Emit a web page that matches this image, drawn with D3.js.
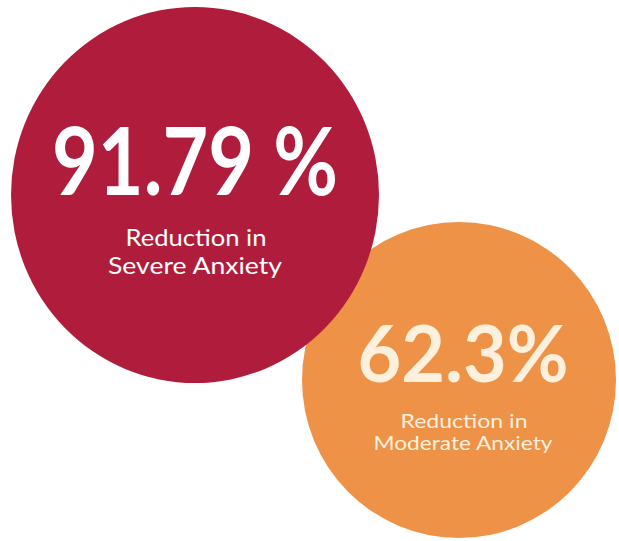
<!DOCTYPE html>
<html>
<head>
<meta charset="utf-8">
<script src="https://cdn.jsdelivr.net/npm/d3@7"></script>
<style>
  html, body { margin: 0; padding: 0; background: #fff; }
  svg { display: block; }
</style>
</head>
<body>
<div id="chart"></div>
<script>
const categories = ["Severe Anxiety", "Moderate Anxiety"];
const values = [91.79, 62.3];
const valueLabels = ["91.79 %", "62.3%"];
const captionLines = [["Reduction in", "Severe Anxiety"], ["Reduction in", "Moderate Anxiety"]];

const width = 619, height = 541;
const colors = ["#b01c3b", "#ee9248"];
const textColors = ["#ffffff", "#fdf0dc"];

// per-bubble text layout (style only)
const layout = [
  { big: { y: 195, size: 94, len: 286, dx: 0 },
    cap: { y: 246, step: 28, size: 24, lens: [141, 174], dx: [1, 0] } },
  { big: { y: 382, size: 79, len: 211, dx: 4 },
    cap: { y: 428, step: 22, size: 20, lens: [127, 179], dx: [5, 4] } }
];

const svg = d3.select("#chart").append("svg")
  .attr("width", width)
  .attr("height", height);

const x = d3.scalePoint().domain(categories).range([195, 459]);
const y = d3.scalePoint().domain(categories).range([195, 380]);
const r = d3.scaleLinear().domain([62.3, 91.79]).range([157, 184]);

const data = categories.map((c, i) => ({ c, v: values[i], label: valueLabels[i], lines: captionLines[i], i }));

// orange drawn first, red on top
const g = svg.selectAll("g.bubble")
  .data(data.slice().reverse())
  .enter()
  .append("g")
  .attr("class", "bubble");

g.append("ellipse")
  .attr("cx", d => x(d.c))
  .attr("cy", d => y(d.c))
  .attr("rx", d => r(d.v))
  .attr("ry", d => r(d.v) + (d.i === 0 ? 4 : 1))
  .attr("fill", d => colors[d.i]);

g.append("text")
  .attr("x", d => x(d.c) + layout[d.i].big.dx)
  .attr("y", d => layout[d.i].big.y)
  .attr("text-anchor", "middle")
  .attr("font-family", "Lato, sans-serif")
  .attr("font-weight", 700)
  .attr("font-size", d => layout[d.i].big.size)
  .attr("textLength", d => layout[d.i].big.len)
  .attr("lengthAdjust", "spacingAndGlyphs")
  .attr("fill", d => textColors[d.i])
  .text(d => d.label);

g.each(function (d) {
  const sel = d3.select(this);
  const L = layout[d.i].cap;
  d.lines.forEach((line, k) => {
    sel.append("text")
      .attr("x", x(d.c) + L.dx[k])
      .attr("y", L.y + k * L.step)
      .attr("text-anchor", "middle")
      .attr("font-family", "Lato, sans-serif")
      .attr("font-size", L.size)
      .attr("textLength", L.lens[k])
      .attr("lengthAdjust", "spacingAndGlyphs")
      .attr("fill", textColors[d.i])
      .text(line);
  });
});
</script>
</body>
</html>
